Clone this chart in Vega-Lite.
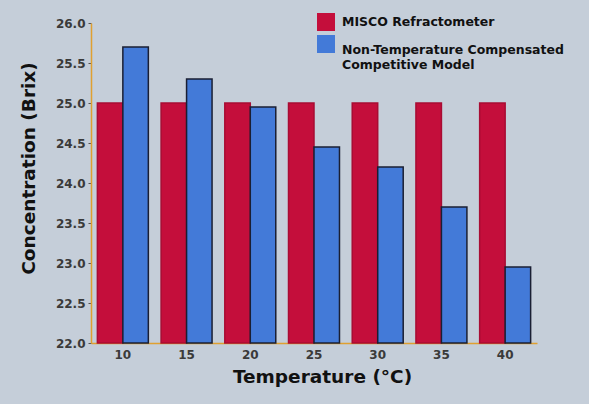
{
  "$schema": "https://vega.github.io/schema/vega-lite/v6.json",
  "autosize": "none",
  "width": 446,
  "height": 320,
  "padding": {"left": 91, "top": 23, "right": 52, "bottom": 61},
  "background": "#c5ced9",
  "config": {
    "view": {"stroke": null},
    "font": "DejaVu Sans"
  },
  "data": {
    "values": [
      {"temp": "10", "series": "MISCO Refractometer", "brix": 25.0},
      {"temp": "10", "series": "Non-Temperature Compensated Competitive Model", "brix": 25.7},
      {"temp": "15", "series": "MISCO Refractometer", "brix": 25.0},
      {"temp": "15", "series": "Non-Temperature Compensated Competitive Model", "brix": 25.3},
      {"temp": "20", "series": "MISCO Refractometer", "brix": 25.0},
      {"temp": "20", "series": "Non-Temperature Compensated Competitive Model", "brix": 24.95},
      {"temp": "25", "series": "MISCO Refractometer", "brix": 25.0},
      {"temp": "25", "series": "Non-Temperature Compensated Competitive Model", "brix": 24.45},
      {"temp": "30", "series": "MISCO Refractometer", "brix": 25.0},
      {"temp": "30", "series": "Non-Temperature Compensated Competitive Model", "brix": 24.2},
      {"temp": "35", "series": "MISCO Refractometer", "brix": 25.0},
      {"temp": "35", "series": "Non-Temperature Compensated Competitive Model", "brix": 23.7},
      {"temp": "40", "series": "MISCO Refractometer", "brix": 25.0},
      {"temp": "40", "series": "Non-Temperature Compensated Competitive Model", "brix": 22.95}
    ]
  },
  "mark": {"type": "bar", "strokeWidth": 1.5},
  "encoding": {
    "x": {
      "field": "temp",
      "type": "ordinal",
      "sort": ["10", "15", "20", "25", "30", "35", "40"],
      "scale": {"paddingInner": 0.2, "paddingOuter": 0.1},
      "axis": {
        "title": "Temperature (°C)",
        "titleFontSize": 18.5,
        "titleFontWeight": "bold",
        "titleColor": "#111111",
        "titlePadding": 7,
        "titleX": 231,
        "labelAngle": 0,
        "labelFontSize": 12,
        "labelFontWeight": "bold",
        "labelColor": "#3a3a3a",
        "labelPadding": 6,
        "ticks": false,
        "domainColor": "#e0a030",
        "domainWidth": 1.5
      }
    },
    "xOffset": {
      "field": "series",
      "type": "nominal",
      "sort": ["MISCO Refractometer", "Non-Temperature Compensated Competitive Model"],
      "scale": {"paddingInner": 0}
    },
    "y": {
      "field": "brix",
      "type": "quantitative",
      "scale": {"domain": [22, 26], "zero": false, "nice": false},
      "axis": {
        "title": "Concentration (Brix)",
        "titleFontSize": 18.5,
        "titleFontWeight": "bold",
        "titleColor": "#111111",
        "titlePadding": 17,
        "titleY": 145,
        "values": [22, 22.5, 23, 23.5, 24, 24.5, 25, 25.5, 26],
        "format": ".1f",
        "labelFontSize": 12,
        "labelFontWeight": "bold",
        "labelColor": "#3a3a3a",
        "labelPadding": 3,
        "tickSize": 3,
        "tickColor": "#555555",
        "grid": false,
        "domainColor": "#e0a030",
        "domainWidth": 1.5
      }
    },
    "y2": {"datum": 22},
    "color": {
      "field": "series",
      "type": "nominal",
      "sort": ["MISCO Refractometer", "Non-Temperature Compensated Competitive Model"],
      "scale": {"range": ["#c40e3b", "#437ad8"]},
      "legend": {
        "title": null,
        "orient": "none",
        "legendX": 226,
        "legendY": -10,
        "symbolType": "square",
        "symbolSize": 324,
        "symbolStrokeWidth": 0,
        "labelFontSize": 12.5,
        "labelFontWeight": "bold",
        "labelColor": "#111111",
        "labelOffset": 7,
        "rowPadding": 4,
        "labelLimit": 300,
        "labelBaseline": {"expr": "datum.label == 'MISCO Refractometer' ? 'middle' : 'top'"},
        "labelExpr": "datum.label == 'MISCO Refractometer' ? datum.label : ['Non-Temperature Compensated', 'Competitive Model']"
      }
    },
    "stroke": {
      "field": "series",
      "type": "nominal",
      "sort": ["MISCO Refractometer", "Non-Temperature Compensated Competitive Model"],
      "scale": {"range": ["#a80c33", "#1a1f33"]},
      "legend": null
    }
  }
}
